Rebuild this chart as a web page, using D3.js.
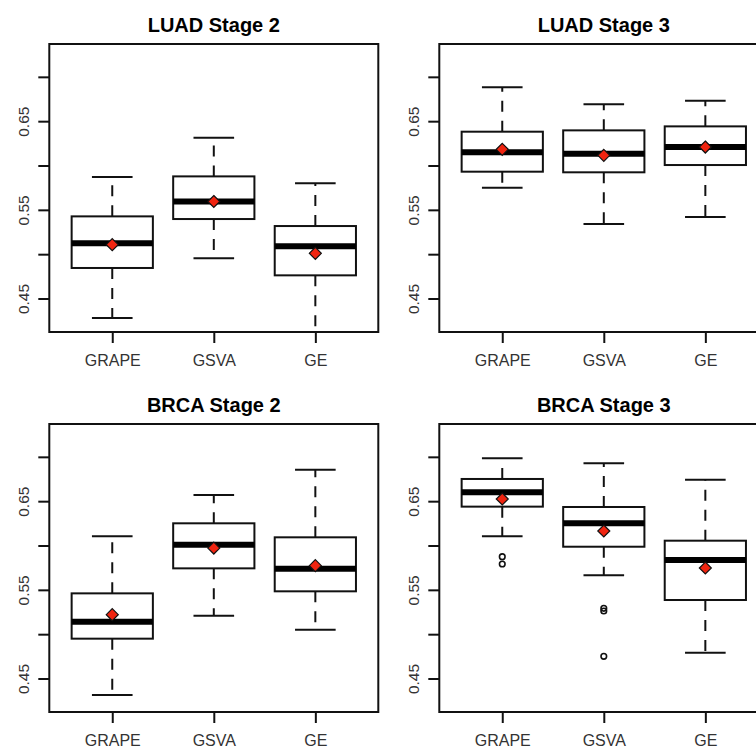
<!DOCTYPE html>
<html>
<head>
<meta charset="utf-8">
<script src="https://cdn.jsdelivr.net/npm/d3@7"></script>
<style>
  body { margin: 0; background: #fff; }
  svg { display: block; font-family: "Liberation Sans", Arial, sans-serif; }
</style>
</head>
<body>
<svg id="chart" width="756" height="750"></svg>
<script>
var methods = ["GRAPE", "GSVA", "GE"];
var panelTitles = ["LUAD Stage 2", "LUAD Stage 3", "BRCA Stage 2", "BRCA Stage 3"];
var yTicks = [0.45, 0.50, 0.55, 0.60, 0.65, 0.70];
var yTickLabels = ["0.45", "", "0.55", "", "0.65", ""];

// per panel, per method: [lower whisker, q1, median, q3, upper whisker]
var luad2Stats = [[0.4286, 0.4850, 0.5128, 0.5432, 0.5876], [0.4959, 0.5402, 0.5601, 0.5883, 0.6320], [0.3950, 0.4767, 0.5094, 0.5323, 0.5805]];
var luad3Stats = [[0.5756, 0.5936, 0.6154, 0.6387, 0.6887], [0.5346, 0.5929, 0.6139, 0.6402, 0.6696], [0.5425, 0.6011, 0.6214, 0.6447, 0.6737]];
var brca2Stats = [[0.4320, 0.4955, 0.5147, 0.5466, 0.6109], [0.5214, 0.5748, 0.6015, 0.6256, 0.6575], [0.5056, 0.5489, 0.5744, 0.6098, 0.6861]];
var brca3Stats = [[0.6109, 0.6444, 0.6605, 0.6756, 0.6989], [0.5669, 0.5992, 0.6256, 0.6440, 0.6932], [0.4797, 0.5391, 0.5842, 0.6060, 0.6748]];

var luad2Means = [0.5113, 0.5600, 0.5015];
var luad3Means = [0.6188, 0.6120, 0.6214];
var brca2Means = [0.5226, 0.5977, 0.5778];
var brca3Means = [0.6530, 0.6169, 0.5752];

var luad2Outliers = [[], [], []];
var luad3Outliers = [[], [], []];
var brca2Outliers = [[], [], []];
var brca3Outliers = [[0.5880, 0.5797], [0.5297, 0.5267, 0.4756], []];

var allStats = [luad2Stats, luad3Stats, brca2Stats, brca3Stats];
var allMeans = [luad2Means, luad3Means, brca2Means, brca3Means];
var allOutliers = [luad2Outliers, luad3Outliers, brca2Outliers, brca3Outliers];

var svg = d3.select("#chart");
var pw = 329, ph = 288;
var offsets = [[49.3, 44], [439.3, 44], [49.3, 424], [439.3, 424]];

var x = d3.scalePoint().domain(methods).range([0, pw]).padding(0.62);
var y = d3.scaleLinear().domain([0.4128, 0.7376]).range([ph, 0]);
var boxW = x.step() * 0.8;

panelTitles.forEach(function(title, p) {
  var g = svg.append("g").attr("transform", "translate(" + offsets[p][0] + "," + offsets[p][1] + ")");
  var clipId = "clip" + p;
  g.append("clipPath").attr("id", clipId).append("rect").attr("width", pw).attr("height", ph);

  // title
  g.append("text").attr("x", pw / 2).attr("y", -11.7).attr("text-anchor", "middle")
    .attr("font-weight", "bold").attr("font-size", 20).text(title);

  // y axis
  var yAxis = d3.axisLeft(y).tickValues(yTicks).tickSize(11).tickPadding(8)
    .tickFormat(function(d, i) { return yTickLabels[i]; });
  var ya = g.append("g").call(yAxis);
  ya.select(".domain").remove();
  ya.selectAll(".tick line").attr("stroke", "#111").attr("stroke-width", 2);
  ya.selectAll(".tick").attr("transform", null);
  ya.selectAll(".tick line").attr("y1", function(d) { return y(d); }).attr("y2", function(d) { return y(d); });
  ya.selectAll(".tick text").attr("font-size", 15.5).attr("fill", "#333")
    .attr("x", -26).attr("y", function(d) { return y(d); })
    .attr("dy", "0.35em").attr("text-anchor", "middle")
    .attr("transform", function(d) { return "rotate(-90," + (-26) + "," + y(d) + ")"; });

  // x axis
  var xAxis = d3.axisBottom(x).tickSize(11).tickPadding(12);
  var xa = g.append("g").attr("transform", "translate(0," + ph + ")").call(xAxis);
  xa.select(".domain").remove();
  xa.selectAll(".tick line").attr("stroke", "#111").attr("stroke-width", 2);
  xa.selectAll(".tick text").attr("font-size", 16).attr("fill", "#333");

  var inner = g.append("g").attr("clip-path", "url(#" + clipId + ")");
  var stats = allStats[p];

  methods.forEach(function(m, i) {
    var s = stats[i];
    var cx = x(m);
    // whiskers
    inner.append("line").attr("x1", cx).attr("x2", cx).attr("y1", y(s[3])).attr("y2", y(s[4]))
      .attr("stroke", "#111").attr("stroke-width", 2).attr("stroke-dasharray", "11,9");
    inner.append("line").attr("x1", cx).attr("x2", cx).attr("y1", y(s[1])).attr("y2", y(s[0]))
      .attr("stroke", "#111").attr("stroke-width", 2).attr("stroke-dasharray", "11,9");
    // staples
    [s[0], s[4]].forEach(function(v) {
      inner.append("line").attr("x1", cx - boxW / 4).attr("x2", cx + boxW / 4)
        .attr("y1", y(v)).attr("y2", y(v)).attr("stroke", "#111").attr("stroke-width", 2);
    });
    // box
    inner.append("rect").attr("x", cx - boxW / 2).attr("width", boxW)
      .attr("y", y(s[3])).attr("height", y(s[1]) - y(s[3]))
      .attr("fill", "#fff").attr("stroke", "#111").attr("stroke-width", 2);
    // median
    inner.append("line").attr("x1", cx - boxW / 2).attr("x2", cx + boxW / 2)
      .attr("y1", y(s[2])).attr("y2", y(s[2])).attr("stroke", "#000").attr("stroke-width", 6);
    // outliers
    allOutliers[p][i].forEach(function(v) {
      inner.append("circle").attr("cx", cx).attr("cy", y(v)).attr("r", 2.8)
        .attr("fill", "none").attr("stroke", "#111").attr("stroke-width", 1.6);
    });
    // mean diamond
    var my = y(allMeans[p][i]), r = 6;
    inner.append("path")
      .attr("d", "M" + cx + "," + (my - r) + "L" + (cx + r) + "," + my + "L" + cx + "," + (my + r) + "L" + (cx - r) + "," + my + "Z")
      .attr("fill", "#f02410").attr("stroke", "#111").attr("stroke-width", 1.2);
  });

  // frame
  g.append("rect").attr("width", pw).attr("height", ph).attr("fill", "none")
    .attr("stroke", "#111").attr("stroke-width", 2);
});
</script>
</body>
</html>
